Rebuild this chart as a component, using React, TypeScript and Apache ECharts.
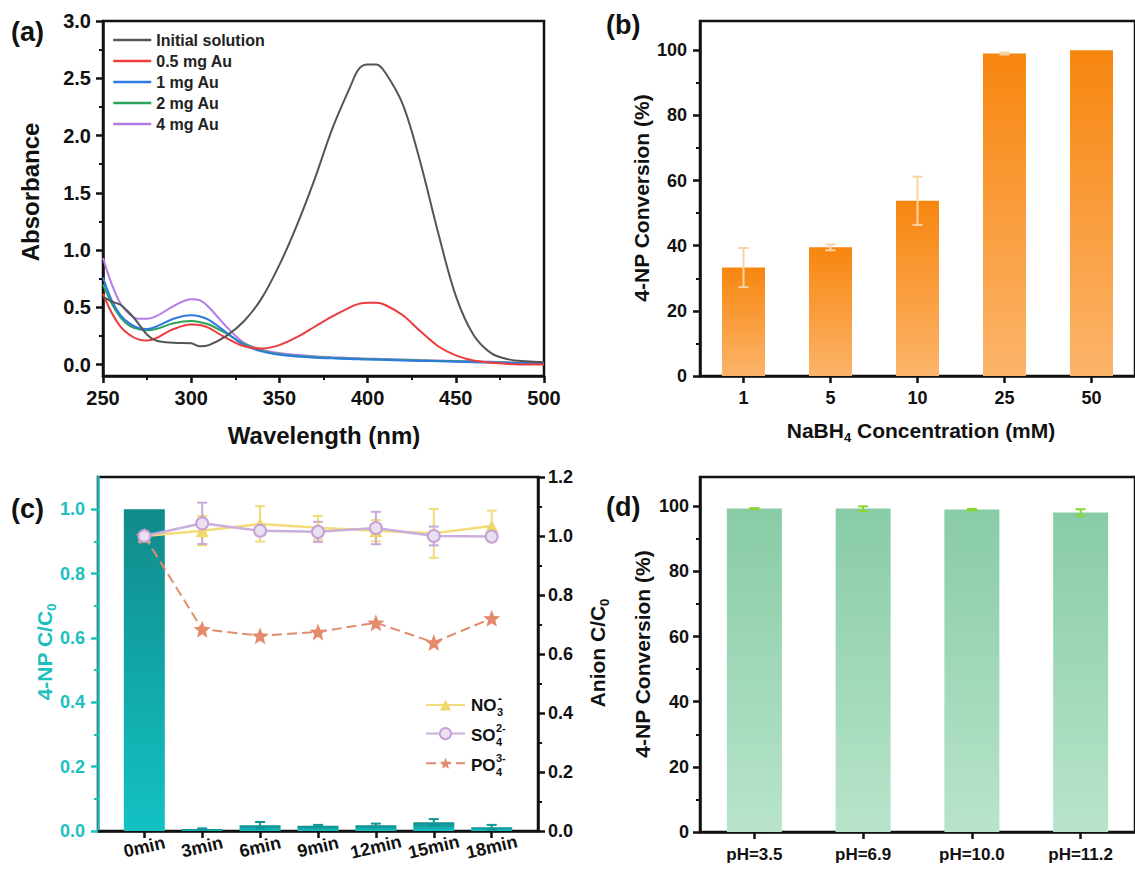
import React, { useEffect, useRef } from "react";
import * as echarts from "echarts";

const FONT = "'Liberation Sans', Arial, Helvetica, sans-serif";

// ---------- (a) UV-vis spectra ----------
const wavelengths = [250, 255, 260, 265, 270, 275, 280, 290, 300, 305, 310, 320, 330, 340, 350, 360, 370, 380, 390, 395, 400, 405, 410, 420, 430, 440, 450, 460, 470, 480, 490, 500];
const spectrumNames = ["Initial solution", "0.5 mg Au", "1 mg Au", "2 mg Au", "4 mg Au"];
const spectrumColors = ["#555555", "#EE3B3B", "#2E7BE0", "#2BA35B", "#B07CE8"];
const absInitial = [0.59, 0.55, 0.52, 0.45, 0.36, 0.26, 0.21, 0.19, 0.185, 0.16, 0.17, 0.25, 0.38, 0.58, 0.87, 1.22, 1.62, 2.06, 2.42, 2.58, 2.62, 2.62, 2.55, 2.27, 1.76, 1.15, 0.6, 0.26, 0.1, 0.045, 0.028, 0.02];
const abs05 = [0.62, 0.45, 0.33, 0.26, 0.22, 0.21, 0.23, 0.31, 0.35, 0.345, 0.32, 0.23, 0.16, 0.14, 0.17, 0.24, 0.33, 0.42, 0.5, 0.53, 0.54, 0.54, 0.52, 0.43, 0.29, 0.16, 0.08, 0.035, 0.015, 0.005, 0.0, 0.0];
const abs1 = [0.76, 0.56, 0.43, 0.36, 0.32, 0.31, 0.33, 0.4, 0.43, 0.42, 0.39, 0.28, 0.17, 0.115, 0.085, 0.07, 0.06, 0.054, 0.048, 0.046, 0.044, 0.042, 0.04, 0.036, 0.032, 0.028, 0.024, 0.02, 0.017, 0.014, 0.012, 0.01];
const abs2 = [0.7, 0.53, 0.41, 0.34, 0.31, 0.3, 0.31, 0.36, 0.38, 0.37, 0.35, 0.27, 0.18, 0.12, 0.09, 0.075, 0.065, 0.058, 0.052, 0.05, 0.048, 0.046, 0.044, 0.04, 0.036, 0.032, 0.028, 0.024, 0.02, 0.017, 0.015, 0.013];
const abs4 = [0.93, 0.7, 0.53, 0.44, 0.4, 0.4, 0.42, 0.51, 0.57, 0.56, 0.5, 0.33, 0.19, 0.13, 0.1, 0.085, 0.072, 0.064, 0.058, 0.055, 0.052, 0.05, 0.048, 0.044, 0.04, 0.036, 0.032, 0.028, 0.024, 0.02, 0.018, 0.016];
const spectra = [absInitial, abs05, abs1, abs2, abs4];
const absTicks = [0, 0.5, 1.0, 1.5, 2.0, 2.5, 3.0];
const absMinor = [0.25, 0.75, 1.25, 1.75, 2.25, 2.75];

// ---------- (b) NaBH4 concentration ----------
const nabh4Conc = ["1", "5", "10", "25", "50"];
const nabh4Conv = [33.3, 39.5, 53.8, 99.0, 100.0];
const nabh4Err = [6.0, 0.9, 7.4, 0.3, 0];

// ---------- (c) time course ----------
const times = ["0min", "3min", "6min", "9min", "12min", "15min", "18min"];
const npRatio = [1.0, 0.006, 0.018, 0.016, 0.018, 0.027, 0.012];
const npErr = [0, 0.002, 0.01, 0.003, 0.005, 0.01, 0.007];
const no3 = [1.0, 1.018, 1.041, 1.028, 1.018, 1.009, 1.034];
const no3Err = [0, 0.05, 0.06, 0.04, 0.036, 0.083, 0.052];
const so4 = [1.0, 1.043, 1.018, 1.014, 1.027, 1.0, 0.998];
const so4Err = [0, 0.07, 0.015, 0.034, 0.055, 0.032, 0];
const po4 = [1.0, 0.684, 0.662, 0.675, 0.706, 0.639, 0.721];
const leftTicks = [0, 0.2, 0.4, 0.6, 0.8, 1.0];
const leftMinor = [0.1, 0.3, 0.5, 0.7, 0.9];

// ---------- (d) pH ----------
const phLabels = ["pH=3.5", "pH=6.9", "pH=10.0", "pH=11.2"];
const phConv = [99.3, 99.3, 99.0, 98.1];
const phErr = [0.15, 0.7, 0.2, 1.0];
const convTicks = [0, 20, 40, 60, 80, 100];
const convMinor = [10, 30, 50, 70, 90];

const TEAL = "#1DBFBF";
const INK = "#111111";
const STAR = "path://M12,1 L14.9,8.6 L23,9 L16.7,14.1 L18.8,22 L12,17.6 L5.2,22 L7.3,14.1 L1,9 L9.1,8.6 Z";

const lbl = (size: number, color = INK, extra: any = {}) => ({
  fontSize: size, fontWeight: "bold", color, fontFamily: FONT, ...extra,
});
const line = (color = INK) => ({ show: true, onZero: false, lineStyle: { color, width: 2.5 } });
const tick = (color = INK, extra: any = {}) => ({
  show: true, inside: false, length: 7, lineStyle: { color, width: 2.5 }, ...extra,
});
const minorAxis = (gridIndex: number, min: number, max: number, vals: number[], color = INK, position = "left") => ({
  type: "value", gridIndex, min, max, position,
  axisLine: { show: false, onZero: false },
  axisLabel: { show: false },
  splitLine: { show: false },
  axisTick: { show: true, inside: false, length: 4, customValues: vals, lineStyle: { color, width: 2 } },
});

const errRender = (color: string, cap: number, lw: number) => (_p: any, api: any) => {
  const x = api.value(0);
  const y = api.value(1);
  const e = api.value(2);
  if (!e) return null;
  const t = api.coord([x, y + e]);
  const b = api.coord([x, y - e]);
  const style = { stroke: color, lineWidth: lw };
  return {
    type: "group",
    children: [
      { type: "line", shape: { x1: t[0], y1: t[1], x2: b[0], y2: b[1] }, style },
      { type: "line", shape: { x1: t[0] - cap, y1: t[1], x2: t[0] + cap, y2: t[1] }, style },
      { type: "line", shape: { x1: b[0] - cap, y1: b[1], x2: b[0] + cap, y2: b[1] }, style },
    ],
  };
};

const grad = (top: string, bottom: string) =>
  new echarts.graphic.LinearGradient(0, 0, 0, 1, [
    { offset: 0, color: top },
    { offset: 1, color: bottom },
  ]);

const txt = (text: string, x: number, y: number, size: number, opts: any = {}) => ({
  type: "text", x, y, rotation: opts.rot ? Math.PI / 2 : 0, z: 100,
  style: {
    text, font: `bold ${size}px ${FONT}`, fill: opts.color || INK,
    textAlign: opts.align || "center", align: opts.align || "center",
    textVerticalAlign: "middle", verticalAlign: "middle",
    rich: opts.rich,
  },
});

const subRich = (size: number, color = INK) => ({
  m: { font: `bold ${size}px ${FONT}`, fill: color, color, lineHeight: size + 6 },
  s: { font: `bold ${Math.round(size * 0.62)}px ${FONT}`, fill: color, color, lineHeight: Math.round(size * 0.55), verticalAlign: "bottom" },
});

function buildOption() {
  const fmt1 = (v: number) => v.toFixed(1);
  return {
    animation: false,
    backgroundColor: "#ffffff",
    grid: [
      { left: 103, top: 21, width: 441, height: 355, show: true, borderColor: INK, borderWidth: 2.5 },
      { left: 700, top: 21, width: 441, height: 355, show: true, borderColor: INK, borderWidth: 2.5 },
      { left: 98, top: 477, width: 440, height: 354, show: true, borderColor: INK, borderWidth: 2.5 },
      { left: 700, top: 477, width: 441, height: 355, show: true, borderColor: INK, borderWidth: 2.5 },
    ],
    xAxis: [
      {
        type: "value", gridIndex: 0, min: 250, max: 500, interval: 50,
        axisLine: line(), axisTick: tick(),
        minorTick: { show: true, splitNumber: 2, length: 4, lineStyle: { color: INK, width: 2 } },
        axisLabel: lbl(20, INK, { margin: 12 }), splitLine: { show: false },
      },
      {
        type: "category", gridIndex: 1, data: nabh4Conc,
        axisLine: line(), axisTick: tick(INK, { alignWithLabel: true }),
        axisLabel: lbl(18, INK, { margin: 13 }),
      },
      {
        type: "value", gridIndex: 2, min: -0.8, max: 6.8,
        axisLine: line(),
        axisTick: tick(INK, { customValues: [0, 1, 2, 3, 4, 5, 6] }),
        axisLabel: lbl(18, INK, {
          customValues: [0, 1, 2, 3, 4, 5, 6], rotate: 13, align: "center", margin: 16,
          formatter: (v: number) => times[Math.round(v)],
        }),
        splitLine: { show: false },
      },
      {
        type: "category", gridIndex: 3, data: phLabels,
        axisLine: line(), axisTick: tick(INK, { alignWithLabel: true }),
        axisLabel: lbl(17, INK, { margin: 14 }),
      },
    ],
    yAxis: [
      {
        type: "value", gridIndex: 0, min: -0.1, max: 3.0,
        axisLine: line(), axisTick: tick(INK, { customValues: absTicks }),
        axisLabel: lbl(20, INK, { margin: 12, customValues: absTicks, formatter: fmt1 }),
        splitLine: { show: false },
      },
      {
        type: "value", gridIndex: 1, min: 0, max: 109,
        axisLine: line(), axisTick: tick(INK, { customValues: convTicks }),
        axisLabel: lbl(18, INK, { margin: 13, customValues: convTicks }),
        splitLine: { show: false },
      },
      {
        type: "value", gridIndex: 2, min: 0, max: 1.1, position: "left",
        axisLine: line(TEAL), axisTick: tick(TEAL, { customValues: leftTicks }),
        axisLabel: lbl(18, TEAL, { margin: 13, customValues: leftTicks, formatter: fmt1 }),
        splitLine: { show: false },
      },
      {
        type: "value", gridIndex: 2, min: 0, max: 1.2, interval: 0.2, position: "right",
        axisLine: line(), axisTick: tick(),
        minorTick: { show: true, splitNumber: 2, length: 4, lineStyle: { color: INK, width: 2 } },
        axisLabel: lbl(18, INK, { margin: 10, formatter: fmt1 }),
        splitLine: { show: false },
      },
      {
        type: "value", gridIndex: 3, min: 0, max: 109,
        axisLine: line(), axisTick: tick(INK, { customValues: convTicks }),
        axisLabel: lbl(18, INK, { margin: 11, customValues: convTicks }),
        splitLine: { show: false },
      },
      minorAxis(0, -0.1, 3.0, absMinor),
      minorAxis(1, 0, 109, convMinor),
      minorAxis(2, 0, 1.1, leftMinor, TEAL),
      minorAxis(3, 0, 109, convMinor),
    ],
    legend: [
      {
        data: spectrumNames, left: 112, top: 32, orient: "vertical", padding: 0,
        itemWidth: 38, itemHeight: 14, itemGap: 5, selectedMode: false,
        itemStyle: { opacity: 0 }, lineStyle: { width: 2.5, opacity: 1 },
        textStyle: lbl(16, "#222", { lineHeight: 14 }),
      },
      {
        data: ["NO3-", "SO4 2-", "PO4 3-"], left: 425, top: 698, orient: "vertical", padding: 0,
        itemWidth: 39, itemHeight: 14, itemGap: 16, selectedMode: false,
        formatter: () => "", textStyle: lbl(15),
      },
    ],
    series: [
      ...spectra.map((vals, k) => ({
        type: "line", name: spectrumNames[k], xAxisIndex: 0, yAxisIndex: 0,
        data: wavelengths.map((w, i) => [w, vals[i]]),
        smooth: 0.35, symbol: "none", showSymbol: false,
        lineStyle: { width: 2, color: spectrumColors[k] }, itemStyle: { color: spectrumColors[k] },
        z: 5 - k + 2,
      })),
      {
        type: "bar", name: "nabh4", xAxisIndex: 1, yAxisIndex: 1, data: nabh4Conv, barWidth: 43,
        itemStyle: { color: grad("#F7860F", "#FCB46A") },
      },
      {
        type: "custom", xAxisIndex: 1, yAxisIndex: 1, z: 5,
        data: nabh4Conv.map((v, i) => [i, v, nabh4Err[i]]), encode: { x: 0, y: 1 },
        renderItem: errRender("#F8D3A6", 5, 2),
      },
      {
        type: "bar", name: "np", xAxisIndex: 2, yAxisIndex: 2, barWidth: 41,
        data: npRatio.map((v, i) => [i, v]),
        itemStyle: { color: grad("#118A8B", "#13C2C3") },
      },
      {
        type: "custom", xAxisIndex: 2, yAxisIndex: 2, z: 4,
        data: npRatio.map((v, i) => [i, v, npErr[i]]), encode: { x: 0, y: 1 },
        renderItem: errRender("#0E9696", 5, 2),
      },
      {
        type: "custom", xAxisIndex: 2, yAxisIndex: 3, z: 4,
        data: no3.map((v, i) => [i, v, no3Err[i]]), encode: { x: 0, y: 1 },
        renderItem: errRender("#F2DC7A", 5, 2),
      },
      {
        type: "custom", xAxisIndex: 2, yAxisIndex: 3, z: 4,
        data: so4.map((v, i) => [i, v, so4Err[i]]), encode: { x: 0, y: 1 },
        renderItem: errRender("#C9A8DA", 5, 2),
      },
      {
        type: "line", name: "NO3-", xAxisIndex: 2, yAxisIndex: 3, z: 6,
        data: no3.map((v, i) => [i, v]), symbol: "triangle", symbolSize: 13,
        lineStyle: { color: "#F2DC7A", width: 2.5 }, itemStyle: { color: "#F0D86C" },
      },
      {
        type: "line", name: "SO4 2-", xAxisIndex: 2, yAxisIndex: 3, z: 7,
        data: so4.map((v, i) => [i, v]), symbol: "circle", symbolSize: 12,
        lineStyle: { color: "#CBAEDB", width: 2.5 },
        itemStyle: { color: "#EBE0F2", borderColor: "#C4A0D7", borderWidth: 2 },
      },
      {
        type: "line", name: "PO4 3-", xAxisIndex: 2, yAxisIndex: 3, z: 6,
        data: po4.map((v, i) => [i, v]), symbol: STAR, symbolSize: 17,
        lineStyle: { color: "#E48B6D", width: 2, type: [10, 5] }, itemStyle: { color: "#E48B6D" },
      },
      {
        type: "bar", name: "ph", xAxisIndex: 3, yAxisIndex: 4, data: phConv, barWidth: 55,
        itemStyle: { color: grad("#88CCA6", "#B8E4CB") },
      },
      {
        type: "custom", xAxisIndex: 3, yAxisIndex: 4, z: 5,
        data: phConv.map((v, i) => [i, v, phErr[i]]), encode: { x: 0, y: 1 },
        renderItem: errRender("#8BD530", 5, 2),
      },
    ],
    graphic: [
      txt("(a)", 11, 32, 27, { align: "left" }),
      txt("(b)", 606, 25, 27, { align: "left" }),
      txt("(c)", 11, 509, 27, { align: "left" }),
      txt("(d)", 606, 507, 27, { align: "left" }),
      txt("Wavelength (nm)", 324, 435, 24),
      txt("Absorbance", 30, 192, 24, { rot: true }),
      txt("4-NP Conversion (%)", 641, 198, 21, { rot: true }),
      txt("{m|NaBH}{s|4}{m| Concentration (mM)}", 921, 430, 21, { rich: subRich(21) }),
      txt("{m|4-NP C/C}{s|0}", 44, 652, 21, { rot: true, color: TEAL, rich: subRich(21, TEAL) }),
      txt("{m|Anion C/C}{s|0}", 597, 653, 21, { rot: true, rich: subRich(21) }),
      txt("4-NP Conversion (%)", 642, 654, 21, { rot: true }),
      // legend labels for panel (c)
      txt("NO", 471, 705, 17, { align: "left" }),
      txt("3", 497, 712, 11, { align: "left" }),
      txt("-", 498, 699, 12, { align: "left" }),
      txt("SO", 471, 735, 17, { align: "left" }),
      txt("4", 496, 742, 11, { align: "left" }),
      txt("2-", 496, 728, 11, { align: "left" }),
      txt("PO", 471, 765, 17, { align: "left" }),
      txt("4", 496, 772, 11, { align: "left" }),
      txt("3-", 496, 758, 11, { align: "left" }),
    ],
  };
}

export default function App() {
  const ref = useRef<HTMLDivElement>(null);
  useEffect(() => {
    if (!ref.current) return;
    const chart = echarts.init(ref.current, null, { renderer: "svg" });
    chart.setOption(buildOption() as any);
    return () => chart.dispose();
  }, []);
  return (
    <div
      ref={ref}
      style={{ position: "fixed", left: 0, top: 0, width: 1135, height: 876, background: "#fff" }}
    />
  );
}
